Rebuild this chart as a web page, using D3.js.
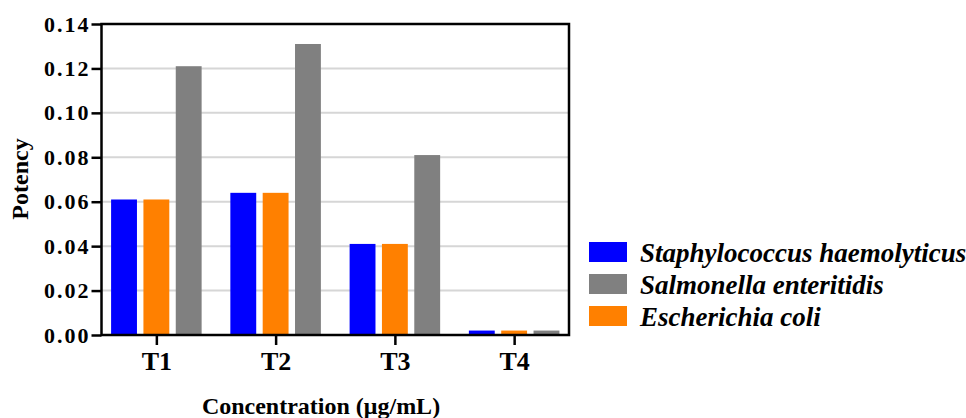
<!DOCTYPE html>
<html>
<head>
<meta charset="utf-8">
<script src="https://cdn.jsdelivr.net/npm/d3@7/dist/d3.min.js"></script>
<style>
html,body{margin:0;padding:0;background:#fff;}
svg{display:block;}
text{font-family:"Liberation Serif","Times New Roman",serif;font-weight:bold;fill:#000;}
</style>
</head>
<body>
<svg id="chart" width="966" height="418"></svg>
<script>
const categories = ["T1", "T2", "T3", "T4"];
const seriesNames = ["Staphylococcus haemolyticus", "Escherichia coli", "Salmonella enteritidis"];
const staphValues = [0.061, 0.064, 0.041, 0.002];
const ecoliValues = [0.061, 0.064, 0.041, 0.002];
const salmValues = [0.121, 0.131, 0.081, 0.002];
const seriesColors = ["#0000ff", "#ff8000", "#808080"];
const legendOrder = [0, 2, 1];
const yTicks = [0, 0.02, 0.04, 0.06, 0.08, 0.10, 0.12, 0.14];

const seriesValues = [staphValues, ecoliValues, salmValues];

const svg = d3.select("#chart");
const L = 101.5, R = 569, T = 24, B = 335;

const x = d3.scalePoint().domain(categories).range([L, R]).padding(0.46);
const y = d3.scaleLinear().domain([0, 0.14]).range([B, T]);
const sub = d3.scaleBand().domain(d3.range(seriesNames.length)).range([-48.5, 48.5]).paddingInner(0.2).paddingOuter(0.1);

// gridlines
svg.append("g").selectAll("line").data(yTicks.filter(t => t > 0 && t < 0.14)).join("line")
  .attr("x1", L).attr("x2", R).attr("y1", d => y(d)).attr("y2", d => y(d))
  .attr("stroke", "#d6d6d6").attr("stroke-width", 2);

// bars
const groups = svg.append("g").selectAll("g").data(categories).join("g")
  .attr("transform", d => `translate(${x(d)},0)`);
groups.selectAll("rect").data((c, i) => seriesValues.map((vals, s) => ({s, v: vals[i]}))).join("rect")
  .attr("x", d => sub(d.s)).attr("width", sub.bandwidth())
  .attr("y", d => y(d.v)).attr("height", d => B - y(d.v))
  .attr("fill", d => seriesColors[d.s]);

// frame
svg.append("rect").attr("x", L).attr("y", T).attr("width", R - L).attr("height", B - T)
  .attr("fill", "none").attr("stroke", "#000").attr("stroke-width", 2.5);

// y axis
const yAxis = d3.axisLeft(y).tickValues(yTicks).tickFormat(d3.format(".2f")).tickSize(10).tickPadding(1);
const ya = svg.append("g").attr("transform", `translate(${L},0)`).call(yAxis);
ya.attr("font-family", null);
ya.select(".domain").remove();
ya.selectAll(".tick line").attr("stroke", "#000").attr("stroke-width", 2.5);
ya.selectAll(".tick text").style("font-size", "22px").style("letter-spacing", "2px")
  .attr("fill", "#000");

// x axis
const xAxis = d3.axisBottom(x).tickSize(10).tickPadding(7);
const xa = svg.append("g").attr("transform", `translate(0,${B})`).call(xAxis);
xa.attr("font-family", null);
xa.select(".domain").remove();
xa.selectAll(".tick line").attr("stroke", "#000").attr("stroke-width", 2.5);
xa.selectAll(".tick text").style("font-size", "26px").attr("fill", "#000");

// axis titles
svg.append("text").attr("x", 321).attr("y", 414).attr("text-anchor", "middle")
  .style("font-size", "24px").text("Concentration (μg/mL)");
svg.append("text").attr("transform", "translate(28,179) rotate(-90)").attr("text-anchor", "middle")
  .style("font-size", "24px").text("Potency");

// legend
const lg = svg.append("g").selectAll("g").data(legendOrder).join("g")
  .attr("transform", (d, i) => `translate(589,${242 + i * 32})`);
lg.append("rect").attr("width", 38).attr("height", 20).attr("fill", d => seriesColors[d]);
lg.append("text").attr("x", 51).attr("y", 20).style("font-size", "27px").style("font-style", "italic")
  .text(d => seriesNames[d]);
</script>
</body>
</html>
